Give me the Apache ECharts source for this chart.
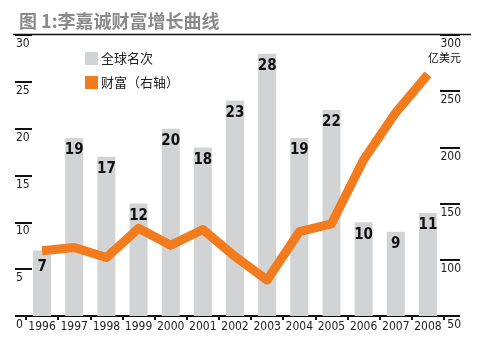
<!DOCTYPE html>
<html><head><meta charset="utf-8">
<script src="https://cdn.jsdelivr.net/npm/echarts@6/dist/echarts.min.js"></script>
<style>html,body{margin:0;padding:0;background:#fff}#c{width:477px;height:345px}</style>
</head><body><div id="c"></div>
<script>
var years = ['1996','1997','1998','1999','2000','2001','2002','2003','2004','2005','2006','2007','2008'];
var rank = [7,19,17,12,20,18,23,28,19,22,10,9,11];
var wealth = [108,111,102,128,113,127,103,82,125,132,189,231,265];
var leftTicks = {min:0,max:30,interval:5};
var rightTicks = {min:50,max:300,interval:50};
var titleText = '图 1:李嘉诚财富增长曲线';
var unitText = '亿美元';
var seriesNames = ['全球名次','财富（右轴）'];

var numFont = '"Liberation Sans Narrow","DejaVu Sans Condensed",sans-serif';
var cjkFont = '"Noto Sans CJK SC",sans-serif';
var chart = echarts.init(document.getElementById('c'), null, {renderer:'canvas'});
var rankData = rank.map(function(v,i){
  var d = {value:v};
  if (i===0) d.label = {offset:[0,4]};
  return d;
});
chart.setOption({
  animation:false,
  backgroundColor:'#fff',
  title:{text:titleText,left:14,top:7,textStyle:{fontFamily:cjkFont,fontSize:18,fontWeight:'bold',color:'#8a8a8a'}},
  graphic:[
    {type:'line',shape:{x1:13,y1:34.5,x2:471,y2:34.5},style:{stroke:'#111',lineWidth:1.5},z:10},
    {type:'text',right:16,top:52,style:{text:unitText,font:'11px "Noto Sans CJK SC"',fill:'#111'}}
  ],
  legend:{orient:'vertical',left:80,top:47,itemWidth:13,itemHeight:13,itemGap:11,icon:'rect',
    textStyle:{fontFamily:cjkFont,fontSize:13,color:'#222',padding:[0,0,0,-2]},
    data:seriesNames},
  grid:{left:26,right:33,top:35,bottom:29},
  xAxis:{type:'category',data:years,boundaryGap:true,
    axisLine:{lineStyle:{color:'#111',width:2}},
    axisTick:{show:true,interval:0,length:4,lineStyle:{color:'#111',width:2}},
    axisLabel:{interval:0,margin:5,fontFamily:numFont,fontSize:12,color:'#222'}},
  yAxis:[
    {type:'value',min:leftTicks.min,max:leftTicks.max,interval:leftTicks.interval,position:'left',offset:-6,
     axisLine:{show:false},splitLine:{show:false},
     axisTick:{show:true,length:17,lineStyle:{color:'#111',width:2}},
     axisLabel:{align:'left',verticalAlign:'top',margin:16,padding:[3,0,0,0],fontFamily:numFont,fontSize:12,color:'#222'}},
    {type:'value',min:rightTicks.min,max:rightTicks.max,interval:rightTicks.interval,position:'right',offset:-4,
     axisLine:{show:false},splitLine:{show:false},
     axisTick:{show:true,length:20,lineStyle:{color:'#111',width:2}},
     axisLabel:{align:'right',verticalAlign:'top',margin:21,padding:[3,0,0,0],fontFamily:numFont,fontSize:12,color:'#222'}}
  ],
  series:[
    {name:seriesNames[0],type:'bar',data:rankData,barWidth:18,itemStyle:{color:'#d2d3d5'},
     label:{show:true,position:'insideTop',distance:5,fontFamily:numFont,fontWeight:'bold',fontSize:15,color:'#111'}},
    {name:seriesNames[1],type:'line',yAxisIndex:1,data:wealth,symbol:'none',z:5,
     itemStyle:{color:'#f27b1d'},
     lineStyle:{color:'#f27b1d',width:9,cap:'butt',join:'round'}}
  ]
});
</script></body></html>
